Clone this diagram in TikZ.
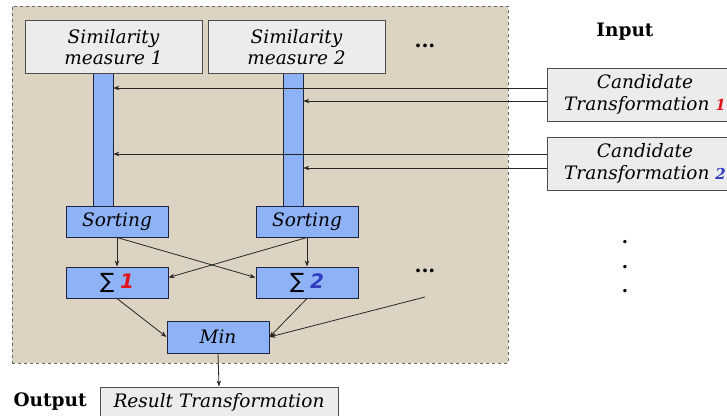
\documentclass[tikz,border=0pt]{standalone}
\usepackage{fontspec}
\setmainfont{DejaVu Serif}
\newfontfamily\symfont{DejaVu Sans}
\usetikzlibrary{arrows.meta,calc}
\definecolor{bgbeige}{RGB}{220,211,194}
\definecolor{boxgray}{RGB}{236,236,236}
\definecolor{barblue}{RGB}{142,178,246}
\definecolor{navyedge}{RGB}{30,36,64}
\definecolor{numred}{RGB}{225,20,30}
\definecolor{numblue}{RGB}{50,60,190}
\begin{document}
\begin{tikzpicture}[x=1pt,y=-1pt,
  graybox/.style={draw=black!70,line width=1pt,fill=boxgray,inner sep=0pt,align=center,
    font=\fontsize{18.5}{21.5}\selectfont\itshape},
  bluebox/.style={draw=navyedge,line width=1pt,fill=barblue,inner sep=0pt,align=center,
    minimum width=102pt,minimum height=31pt,font=\fontsize{18.5}{21.5}\selectfont\itshape},
  bar/.style={draw=navyedge,line width=0.6pt,fill=barblue,inner sep=0pt,minimum width=20pt},
  conn/.style={draw=black!85,line width=0.8pt,-{Stealth[length=6pt,width=4.5pt]}},
  lbl/.style={font=\fontsize{18.5}{22}\selectfont\bfseries},
  dots/.style={font=\fontsize{20}{20}\selectfont\bfseries}]
\useasboundingbox (0,0) rectangle (727,415);
\fill[white] (0,0) rectangle (727,415);
% background panel
\node[draw=black!60,dashed,line width=0.8pt,fill=bgbeige,minimum width=496pt,minimum height=357pt,inner sep=0pt] (panel) at (260,184.5) {};
% bars
\node[bar,minimum height=133pt] (bar1) at (103,139.5) {};
\node[bar,minimum height=133pt] (bar2) at (293,139.5) {};
% top boxes
\node[graybox,minimum width=177pt,minimum height=53pt] (sim1) at (113.5,47) {Similarity\\measure 1};
\node[graybox,minimum width=177pt,minimum height=53pt] (sim2) at (296.5,47) {Similarity\\measure 2};
\node[dots] (dotsA) at (425,46) {...};
% sorting
\node[bluebox] (sort1) at (117,221.5) {Sorting};
\node[bluebox] (sort2) at (307,221.5) {Sorting};
% sums
\node[bluebox] (sum1) at (117,282.5) {{\upshape\symfont\fontsize{21}{21}\selectfont ∑} \textcolor{numred}{\symfont\bfseries\itshape\fontsize{20}{20}\selectfont 1}};
\node[bluebox] (sum2) at (307,282.5) {{\upshape\symfont\fontsize{21}{21}\selectfont ∑} \textcolor{numblue}{\symfont\bfseries\fontsize{20}{20}\selectfont 2}};
\node[dots] (dotsB) at (425,271) {...};
\coordinate (dotsBs) at (425,297);
% min
\node[bluebox,minimum height=32pt] (min) at (218,337) {Min};
% result
\node[graybox,minimum width=238pt,minimum height=31pt] (res) at (219,402.5) {Result Transformation};
\node[lbl,anchor=west] (out) at (10,402) {Output};
% inputs
\node[lbl] (inp) at (625,32) {Input};
\node[graybox,minimum width=196pt,minimum height=53pt] (cand1) at (645,94.5) {Candidate\\Transformation \textcolor{numred}{\bfseries\fontsize{15}{15}\selectfont 1}};
\node[graybox,minimum width=196pt,minimum height=53pt] (cand2) at (645,163.5) {Candidate\\Transformation \textcolor{numblue}{\bfseries\fontsize{15}{15}\selectfont 2}};
\node[dots,align=center,font=\fontsize{18}{24.5}\selectfont\bfseries] (vdots) at (625,267) {.\\.\\.};
% connectors from inputs
\draw[conn] (cand1.west |- 0,88) -- (bar1.east |- 0,88);
\draw[conn] (cand1.west |- 0,101) -- (bar2.east |- 0,101);
\draw[conn] (cand2.west |- 0,154) -- (bar1.east |- 0,154);
\draw[conn] (cand2.west |- 0,168) -- (bar2.east |- 0,168);
% sorting to sums
\draw[conn] (sort1.south) -- (sum1.north);
\draw[conn] (sort2.south) -- (sum2.north);
\draw[conn] (sort1.south) -- ($(sum2.west)+(0,-5)$);
\draw[conn] (sort2.south) -- ($(sum1.east)+(0,-5)$);
% sums to min
\draw[conn] (sum1.south) -- (min.west);
\draw[conn] (sum2.south) -- (min.east);
\draw[conn] (dotsBs) -- (min.east);
% min to result
\draw[conn] (min.south) -- (res.north);
\end{tikzpicture}
\end{document}
